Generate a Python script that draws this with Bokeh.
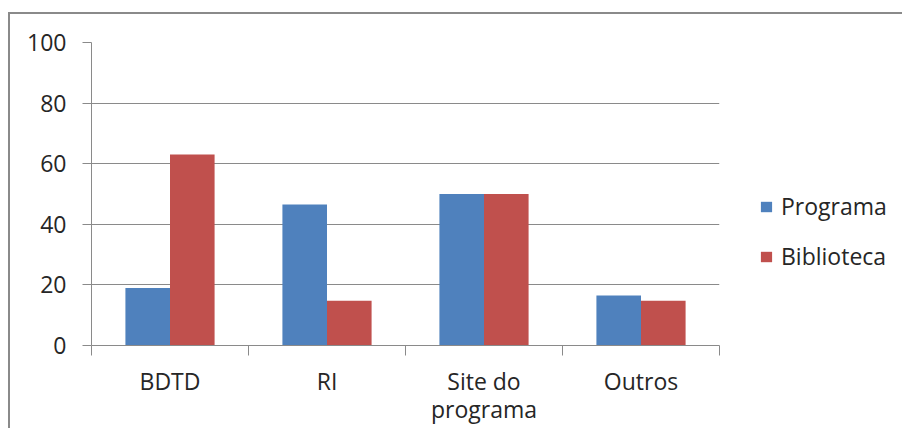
from bokeh.plotting import figure
from bokeh.models import (ColumnDataSource, Range1d, FixedTicker, Legend, LegendItem)
from bokeh.embed import file_html
from bokeh.resources import INLINE

categories = ["BDTD", "RI", "Site do\nprograma", "Outros"]
programa = [19, 46.5, 50, 16.5]
biblioteca = [63, 14.8, 50, 14.8]
series_names = ["Programa", "Biblioteca"]
y_ticks = [0, 20, 40, 60, 80, 100]

BLUE = "#4F81BD"
RED = "#C0504D"
GRID = "#8a8a8a"
TEXT = "#262626"
FONT = "Open Sans"
FS = "23px"

centers = [i + 0.5 for i in range(len(categories))]
bar_w = 0.284
src = ColumnDataSource(dict(
    xp=[c - bar_w / 2 for c in centers],
    xb=[c + bar_w / 2 for c in centers],
    programa=programa,
    biblioteca=biblioteca,
))

p = figure(frame_width=628, frame_height=303, output_backend="svg", toolbar_location=None,
           x_range=Range1d(0, len(categories)), y_range=Range1d(0, 100),
           min_border_left=81, min_border_right=10, min_border_top=28,
           min_border_bottom=70)
p.styles = {"border-top": "2px solid #8a8a8a", "border-left": "2px solid #8a8a8a",
            "margin-top": "12px", "margin-left": "8px"}
p.outline_line_color = None
p.background_fill_color = "white"

rp = p.vbar(x="xp", top="programa", width=bar_w, bottom=0, source=src,
            fill_color=BLUE, line_color=None)
rb = p.vbar(x="xb", top="biblioteca", width=bar_w, bottom=0, source=src,
            fill_color=RED, line_color=None)

# x axis
xa = p.xaxis[0]
xa.ticker = FixedTicker(ticks=centers, minor_ticks=list(range(len(categories) + 1)))
xa.major_label_overrides = {c: lab for c, lab in zip(centers, categories)}
xa.major_tick_out = 0
xa.major_tick_in = 0
xa.minor_tick_out = 10
xa.minor_tick_in = 0
xa.minor_tick_line_color = GRID
xa.axis_line_color = GRID
xa.major_label_text_font = FONT
xa.major_label_text_font_size = FS
xa.major_label_text_color = TEXT
xa.major_label_text_line_height = 0.9
xa.major_label_standoff = 9

# y axis
ya = p.yaxis[0]
ya.ticker = FixedTicker(ticks=y_ticks)
ya.major_tick_out = 9
ya.major_tick_in = 0
ya.minor_tick_out = 0
ya.minor_tick_in = 0
ya.major_tick_line_color = GRID
ya.axis_line_color = GRID
ya.major_label_text_font = FONT
ya.major_label_text_font_size = FS
ya.major_label_text_color = TEXT
ya.major_label_standoff = 16

p.xgrid.grid_line_color = None
p.ygrid.grid_line_color = GRID
p.ygrid.ticker = FixedTicker(ticks=y_ticks)

legend = Legend(items=[LegendItem(label=series_names[0], renderers=[rp]),
                       LegendItem(label=series_names[1], renderers=[rb])],
                location=(40, 73), padding=0, margin=0, spacing=18,
                glyph_width=14, glyph_height=13, label_standoff=8,
                label_text_font=FONT, label_text_font_size=FS,
                label_text_color=TEXT, border_line_color=None,
                background_fill_alpha=0)
p.add_layout(legend, "right")

open("out.html", "w").write(file_html(p, INLINE))
